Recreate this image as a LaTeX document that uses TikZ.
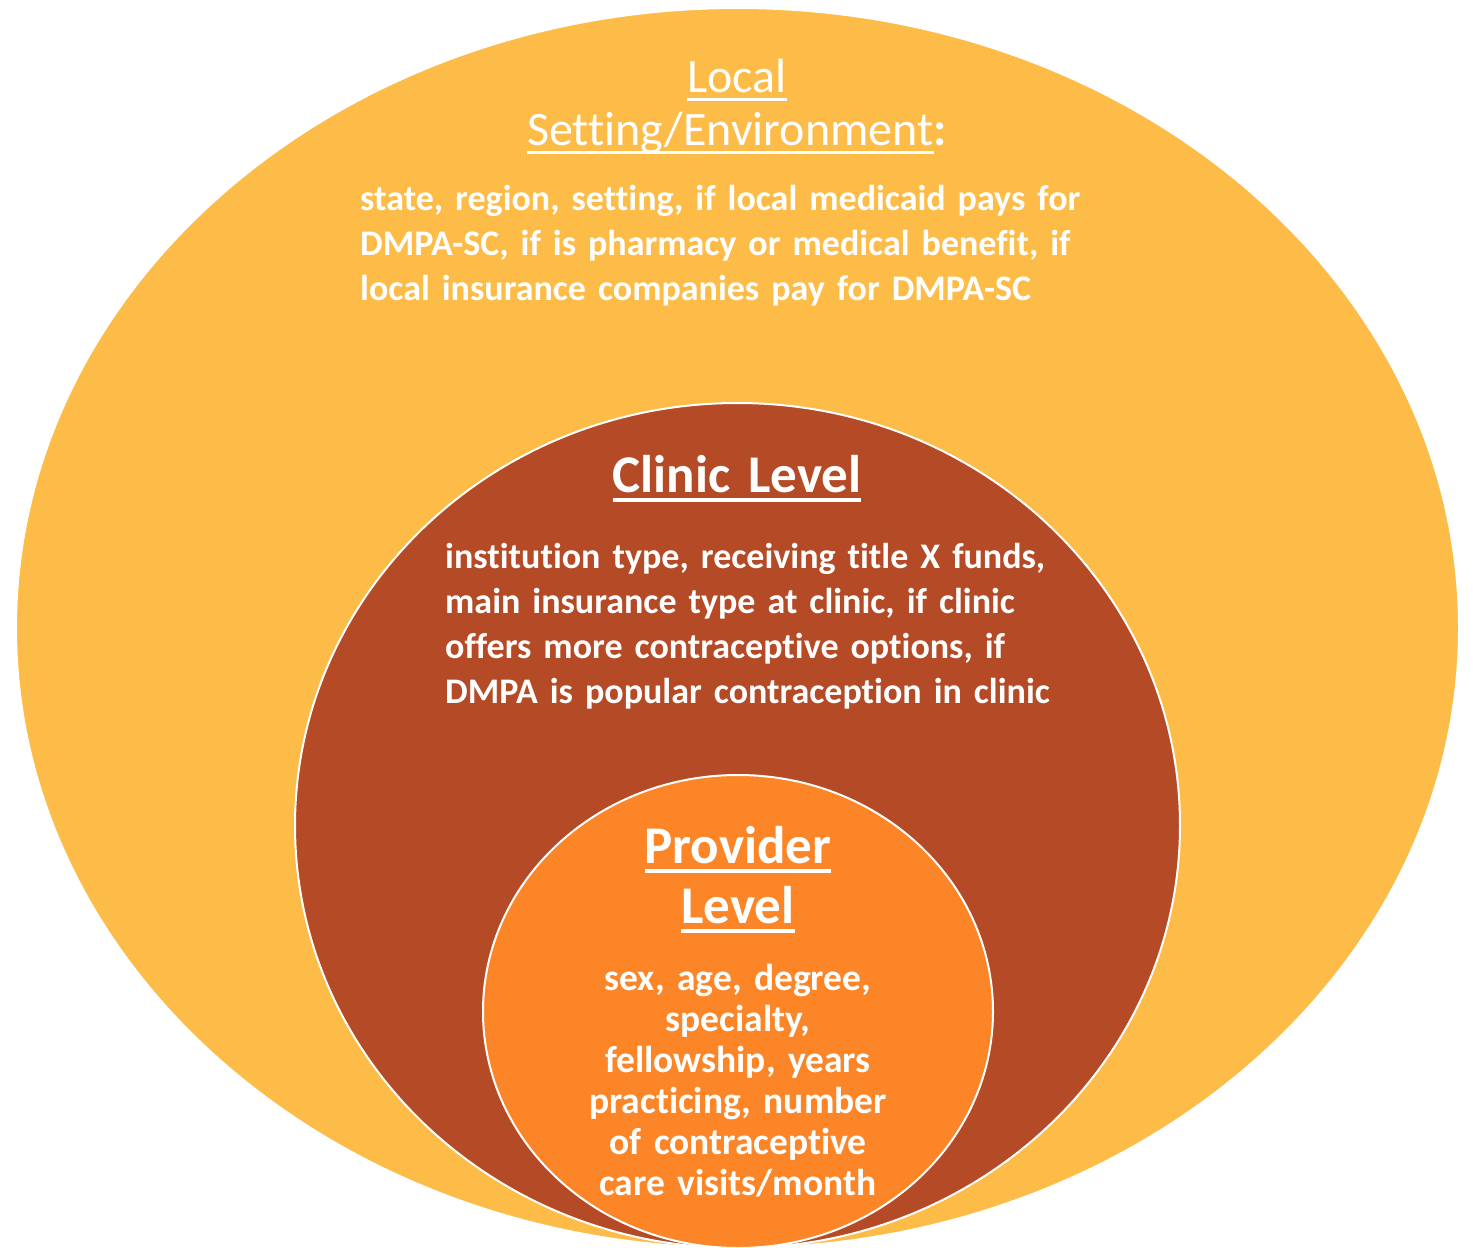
\documentclass[tikz,border=0pt]{standalone}
\usepackage{fontspec}
\setmainfont{Carlito}[Ligatures=NoCommon]
\usetikzlibrary{shapes.geometric, positioning}
\definecolor{gold1}{RGB}{253,187,72}
\definecolor{rust1}{RGB}{180,74,38}
\definecolor{orange1}{RGB}{252,133,40}
% underline that sits just below the baseline
\newcommand\uln[1]{\leavevmode\setbox0\hbox{#1}\rlap{\rule[-0.19em]{\wd0}{0.07em}}\box0}
\tikzset{
  Ring1/.style = {
    ellipse, draw = white, line width = 2pt, inner sep = 0pt,
  },
  Title1/.style = {
    text = white, inner sep = 0pt, text width = 600pt, align = center, anchor = base,
    font = \fontsize{53}{60}\selectfont\bfseries,
  },
  Body1/.style = {
    text = white, inner sep = 0pt,
    font = \fontsize{36}{45}\selectfont\bfseries,
  }
}

\begin{document}
\begin{tikzpicture}[x=1pt, y=-1pt]
      \useasboundingbox (0,0) rectangle (1473,1248);
      \node[Ring1, fill=gold1, minimum width=1443pt, minimum height=1240pt](setting) at (737.5,628){};
      \node[Ring1, fill=rust1, minimum width=885pt, minimum height=845pt](clinic) at (737.5,825.5){};
      \node[Ring1, fill=orange1, minimum width=510pt, minimum height=473pt](provider) at (738,1011.5){};
      \node[Title1, font=\fontsize{48}{53}\selectfont](settingt) at (737,92)
        {\uln{Local}\\\uln{Setting/Environment}\textbf{:}};
      \node[Body1, anchor=base west, text width=800pt, align=left](settingb) at (360,210)
        {state, region, setting, if local medicaid pays for\\
         DMPA-SC, if is pharmacy or medical benefit, if\\
         local insurance companies pay for DMPA-SC};
      \node[Title1](clinict) at (737,492){\uln{Clinic Level}};
      \node[Body1, anchor=base west, text width=700pt, align=left](clinicb) at (445,568)
        {institution type, receiving title X funds,\\
         main insurance type at clinic, if clinic\\
         offers more contraceptive options, if\\
         DMPA is popular contraception in clinic};
      \node[Title1](providert) at (738,863){\uln{Provider}\\\uln{Level}};
      \node[Body1, font=\fontsize{37.5}{41}\selectfont\bfseries, text width=440pt, align=center, anchor=base](providerb) at (738,990)
        {sex, age, degree,\\specialty,\\fellowship, years\\practicing, number\\of contraceptive\\care visits/month};
    \end{tikzpicture}
\end{document}
